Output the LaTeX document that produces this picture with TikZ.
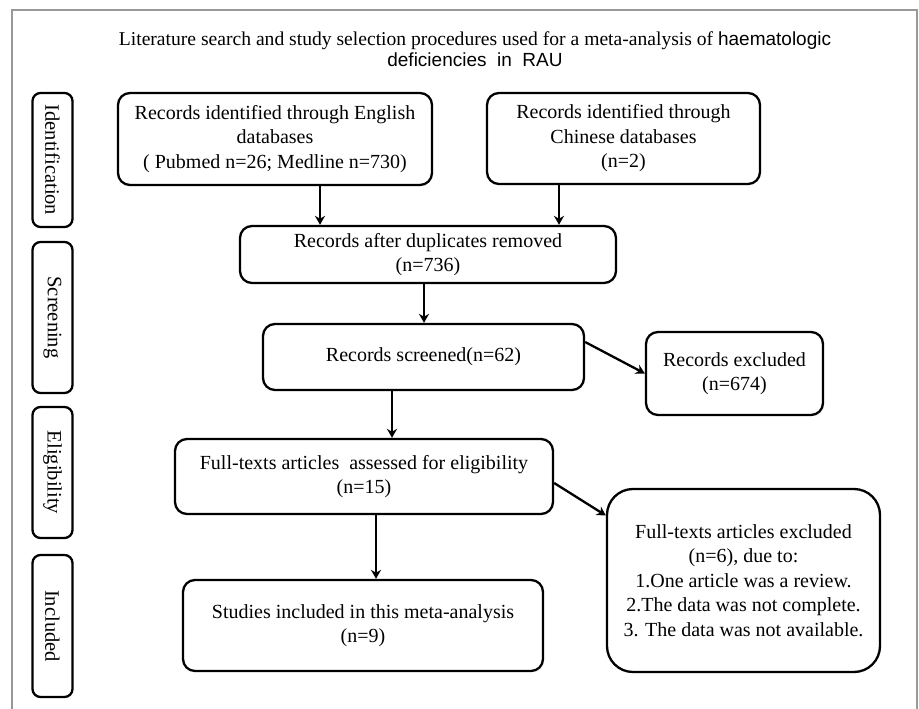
\documentclass[tikz,border=0pt]{standalone}
\usepackage{fontspec}
\setmainfont{Liberation Serif}
\newfontfamily\titlesans{Liberation Sans}
\usepackage{tikz}
\usetikzlibrary{arrows.meta}

\tikzset{
    box/.style={draw, line width=2.3pt, rounded corners=12pt, align=center,
        inner sep=0pt, font=\fontsize{20}{24.5}\selectfont},
    stage/.style={draw, line width=2.3pt, rounded corners=8pt, rotate=-90,
        inner sep=0pt, minimum height=40pt, font=\fontsize{20.5}{21}\selectfont},
    arr/.style={line width=2.3pt, -{Stealth[length=9pt,width=10pt]}}
}

\begin{document}
\begin{tikzpicture}[x=1pt,y=-1pt]
    \useasboundingbox (0,0) rectangle (919,709);
% Frame and title
    \draw[gray!80, line width=1.5pt] (12,709) -- (12,10) -- (917,10) -- (917,709);
    \node[align=center, font=\fontsize{19.6}{21.5}\selectfont] (title) at (475,49)
        {Literature search and study selection procedures used for a meta-analysis of {\titlesans\fontsize{19}{21}\selectfont haematologic}\\
         {\titlesans\fontsize{19}{21}\selectfont deficiencies\ \ in\ \ RAU}};
% Stages
    \node[stage, minimum width=134pt] (idn) at (52.5,160) {Identification};
    \node[stage, minimum width=151pt] (scn) at (52.5,317.5) {Screening};
    \node[stage, minimum width=131pt] (elg) at (52.5,472.5) {Eligibility};
    \node[stage, minimum width=142pt] (inl) at (52.5,626) {Included};
% Boxes
    \node[box, minimum width=314pt, minimum height=92pt] (eng) at (275,139)
        {Records identified through English\\databases\\( Pubmed n=26; Medline n=730)};
    \node[box, minimum width=273pt, minimum height=91pt] (chi) at (623.5,138.5)
        {Records identified through\\Chinese databases\\(n=2)};
    \node[box, minimum width=376pt, minimum height=57pt] (dup) at (428,254.5)
        {Records after duplicates removed\\(n=736)};
    \node[box, minimum width=321pt, minimum height=66pt] (scr) at (423.5,357)
        {Records screened(n=62)};
    \node[box, minimum width=177pt, minimum height=83pt] (exc) at (734.5,373.5)
        {Records excluded\\(n=674)};
    \node[box, minimum width=378pt, minimum height=75pt] (ft) at (364,476.5)
        {Full-texts articles\ \ assessed for eligibility\\(n=15)};
    \node[box, minimum width=360pt, minimum height=91pt] (inc) at (363,625.5)
        {Studies included in this meta-analysis\\(n=9)};
    \node[box, rounded corners=26pt, minimum width=273pt, minimum height=183pt] (ftx) at (743.5,580.5)
        {Full-texts articles excluded\\(n=6), due to:\\1.One article was a review.\\2.The data was not complete.\\3. The data was not available.};
% Arrows
    \draw[arr] ([xshift=45pt]eng.south) -- ([xshift=45pt]eng.south |- dup.north);
    \draw[arr] ([xshift=-64.5pt]chi.south) -- ([xshift=-64.5pt]chi.south |- dup.north);
    \draw[arr] ([xshift=-4pt]dup.south) -- ([xshift=-4pt]dup.south |- scr.north);
    \draw[arr] ([xshift=-31.5pt]scr.south) -- ([xshift=-31.5pt]scr.south |- ft.north);
    \draw[arr] ([xshift=12pt]ft.south) -- ([xshift=12pt]ft.south |- inc.north);
    \draw[arr] ([yshift=15pt]scr.east) -- (exc.west);
    \draw[arr] ([yshift=-6.5pt]ft.east) -- ([yshift=65pt]ftx.west);
\end{tikzpicture}
\end{document}
